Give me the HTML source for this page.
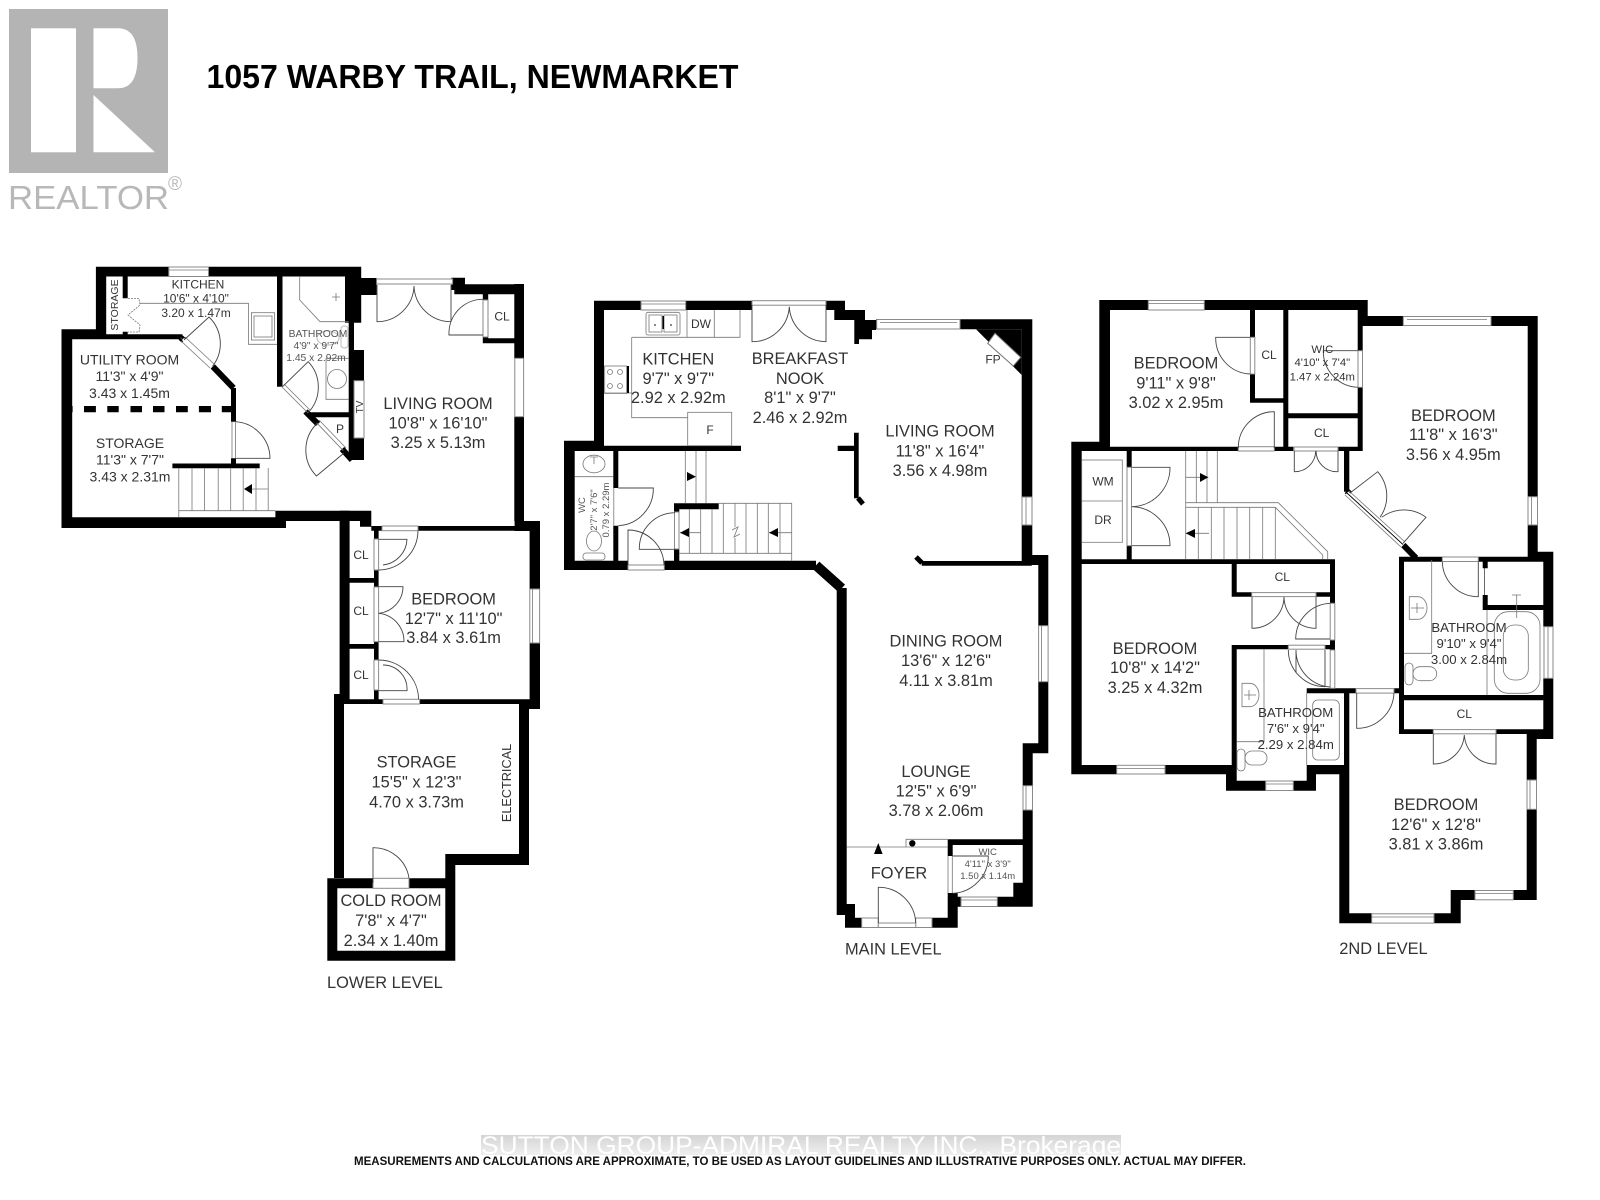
<!DOCTYPE html>
<html><head><meta charset="utf-8"><style>
html,body{margin:0;padding:0;background:#fff}
svg{display:block;filter:blur(.35px)}
text{font-family:"Liberation Sans",sans-serif;fill:#333;text-anchor:middle}
.k{fill:#000}
.ks{fill:none;stroke:#000}
.d{fill:none;stroke:#444;stroke-width:.9}
.g{fill:none;stroke:#777;stroke-width:.8}
.w{fill:#fff;stroke:#8a8a8a;stroke-width:1}
.f{font-size:16.4px}.m{font-size:14px}.s{font-size:12px}.x{font-size:10.3px;fill:#555}
.l{text-anchor:start;font-size:16.4px}
</style></head><body>
<svg width="1600" height="1200" viewBox="0 0 1600 1200" xmlns="http://www.w3.org/2000/svg">
<rect width="1600" height="1200" fill="#fff"/>
<!-- logo -->
<rect x="9" y="9" width="159" height="164" fill="#b4b4b4"/>
<rect x="31" y="28.3" width="45" height="124" fill="#fff"/>
<path d="M93.5 28.3H118Q137.5 28.3 137.5 58Q137.5 88.3 118 88.3H93.5Z" fill="#fff"/>
<path d="M93.5 95V152.3H155Z" fill="#fff"/>
<text x="8" y="209" style="font-size:33px;fill:#b8b8b8;text-anchor:start" textLength="161" lengthAdjust="spacingAndGlyphs">REALTOR</text>
<text x="175" y="190" style="font-size:19px;fill:#b8b8b8">®</text>
<text x="206.5" y="88" style="font-size:33px;font-weight:bold;fill:#000;text-anchor:start" textLength="532" lengthAdjust="spacingAndGlyphs">1057 WARBY TRAIL, NEWMARKET</text>

<!-- LOWER LEVEL walls -->
<path class="k" d="M95.9 266.7H168.8V276.5H95.9ZM208.5 266.7H361.2V276.5H208.5ZM95.9 266.7H106.2V339H95.9ZM122.7 276H127.7V298.3H122.7ZM122.7 331.7H127.7V339H122.7ZM95.9 334.3H182.4V339.3H95.9ZM61.5 329.3H106V339.3H61.5ZM61.5 329.3H72.2V528H61.5ZM61.5 517.3H286V528H61.5ZM231 388H236V421.7H231ZM231 458.3H236V464H231ZM172.4 463.5H259.7V468.3H172.4ZM275.4 510.7H370.2V521H275.4ZM360 510.7H371.3V526.7H360ZM277 276H282.5V386.7H277ZM345 276H361.2V322.7H345ZM348.7 322.7H354V438H348.7ZM348.7 350H364V380.7H348.7ZM348.7 438H364V460H348.7ZM307.5 412.3H348.7V417.3H307.5ZM361.2 278H376.6V295H361.2ZM451.4 277.7H465V290H451.4ZM454.3 284.3H524V294.3H454.3ZM514.3 284H524V358.3H514.3ZM514.3 416.7H524V521H514.3ZM482.8 294H488.2V300H482.8ZM482.8 337H488.2V343.3H482.8ZM482.8 338.3H514.3V343.3H482.8Z"/>
<path class="k" d="M84 406H95.9V412.3H84ZM107.3 406H118.7V412.3H107.3ZM130.5 406H142V412.3H130.5ZM153 406H164.5V412.3H153ZM176 406H187.8V412.3H176ZM198.9 406H211V412.3H198.9ZM221.8 406H231V412.3H221.8ZM68 406H72.6V412.3H68Z"/>
<path class="ks" stroke-width="6" d="M212.8 366.5L233.5 388M180.5 337.5L184 340.5M305.5 411.5L318 424M342 449L352 460"/>
<path class="k" d="M339.6 510.7H349.6V700H339.6ZM349.6 578H378.6V582.7H349.6ZM349.6 644H378.6V648.7H349.6ZM374 526H378.6V539H374ZM374 570H378.6V587H374ZM374 641.7H378.6V660H374ZM374 690H378.6V704H374ZM371.3 526H382V530.7H371.3ZM418 526H514.6V530.7H418ZM514.6 521H540V531H514.6ZM529.6 521H540V589H529.6ZM529.6 643H540V709H529.6ZM339.6 699.3H383V704H339.6ZM419.6 699.3H529.6V704H419.6ZM519 704H540V709H519ZM334 694H344V878H334ZM519 704H529V865H519ZM445.3 854H529V865H445.3ZM445.3 854H455.3V888H445.3ZM327.3 878.3H373V888.3H327.3ZM409 878.3H455.3V888.3H409ZM327.3 878.3H337.3V960.7H327.3ZM445.3 878.3H455.3V960.7H445.3ZM327.3 950.7H455.3V960.7H327.3Z"/>
<!-- lower windows / gray doors -->
<rect class="w" x="168.8" y="267" width="39.7" height="9.5"/><path class="g" d="M168.8 270H208.5"/>
<rect class="w" x="376.6" y="279" width="76" height="5"/>
<rect class="w" x="514.8" y="358.3" width="8.8" height="58.4"/>
<rect class="w" x="483" y="300" width="5" height="37"/>
<rect class="w" x="354" y="380.7" width="10" height="57.3"/>
<rect class="w" x="529.8" y="589" width="9.8" height="54"/><path class="g" d="M532.5 589V643"/>
<rect class="w" x="382" y="526" width="36" height="4.7"/>
<rect class="w" x="383" y="699.3" width="36.6" height="4.7"/>
<rect class="w" x="374" y="539" width="4.6" height="31"/>
<rect class="w" x="374" y="587" width="4.6" height="54.7"/>
<rect class="w" x="374" y="660" width="4.6" height="30"/>
<rect class="w" x="373" y="878.3" width="36" height="10"/>
<path class="g" d="M232 421.7V458.3M235.5 421.7V458.3M180.5 337.5L212.8 366.5"/>
<path d="M183 339L212 366" stroke="#fff" stroke-width="3" fill="none"/>
<path class="g" stroke-width="1" d="M185 337L214 364M181 341L210 368M281 386L308 413M284 384L310 410M316.5 422.7L343.3 450.7M319 420L346 448"/>
<!-- lower doors -->
<path class="d" d="M184 340L209 317A37 37 0 0 1 212.8 366M236 458.3H270A37 37 0 0 0 236 421.7M282.5 386.7L308.2 361.7A37 37 0 0 1 307.5 413.3M344 453L316.5 476A37 37 0 0 1 316.5 424M482.8 335H449A34 34 0 0 1 482.8 299.3M377 285V321.7A37 37 0 0 0 414 286M451 285V321.7A37 37 0 0 1 414 286M418 530.7A40 40 0 0 1 378.6 570M378.6 539.3H407A27 27 0 0 1 383 565M378.6 586.7H403A27 27 0 0 1 378.6 613.3M378.6 613.3A28 28 0 0 1 404 641.7H378.6M378.6 660A40 40 0 0 1 418.6 699.3M383 665A24 24 0 0 1 407 690.7H378.6M373 883V847.7A36 36 0 0 1 409 878"/>
<!-- lower fixtures -->
<path class="g" d="M139.5 303.3H248.5V344.3H277M299.7 276.7V300L320 321.7H348.7M178.8 468V510.7M192 468V510.7M204.6 468V510.7M218.2 468V510.7M230.7 468V510.7M243.2 468V510.7M256 468V510.7M268.2 468V510.7M178.8 510.7H275.4M178.8 517.3V510.7M332 297H340M336 293V301"/>
<path class="g" stroke-dasharray="2 1" d="M128 298.5H139L140 305L128 315L140 325L139 332H128"/>
<rect class="g" x="251.4" y="312.7" width="23.2" height="27.3"/><rect class="g" x="254" y="316" width="18" height="21"/>
<path class="g" d="M326 358.3H348.7M326 358.3V399.3H348.7"/><circle class="g" cx="337" cy="379" r="9.5"/>
<ellipse cx="328" cy="338" rx="11" ry="7" fill="none" stroke="#bbb"/><rect x="341" y="326" width="7" height="22" rx="3" fill="none" stroke="#bbb"/>
<path class="g" d="M268 489H250"/><path class="k" d="M244 489L252 484V494Z"/>
<!-- lower labels -->
<text class="s" x="198" y="288.5">KITCHEN</text><text class="s" x="196" y="302.5">10'6" x 4'10"</text><text class="s" x="196" y="317">3.20 x 1.47m</text>
<text transform="translate(118,305) rotate(-90)" style="font-size:10.5px">STORAGE</text>
<text class="m" x="129.5" y="364.5">UTILITY ROOM</text><text class="m" x="129.5" y="381">11'3" x 4'9"</text><text class="m" x="129.5" y="398">3.43 x 1.45m</text>
<text class="m" x="130" y="448">STORAGE</text><text class="m" x="130" y="464.7">11'3" x 7'7"</text><text class="m" x="130" y="481.7">3.43 x 2.31m</text>
<text class="x" x="318" y="337">BATHROOM</text><text class="x" x="316" y="349">4'9" x 9'7"</text><text class="x" x="316" y="361">1.45 x 2.92m</text>
<text class="f" x="438" y="409">LIVING ROOM</text><text class="f" x="438" y="428.5">10'8" x 16'10"</text><text class="f" x="438" y="448">3.25 x 5.13m</text>
<text class="s" x="502" y="320.5">CL</text>
<text transform="translate(363,407) rotate(-90)" style="font-size:10px">TV</text>
<text class="s" x="340" y="433">P</text>
<text class="s" x="361" y="559">CL</text><text class="s" x="361" y="615">CL</text><text class="s" x="361" y="679">CL</text>
<text class="f" x="453.6" y="604.5">BEDROOM</text><text class="f" x="453.6" y="624">12'7" x 11'10"</text><text class="f" x="453.6" y="643">3.84 x 3.61m</text>
<text class="f" x="416.5" y="767.5">STORAGE</text><text class="f" x="416.5" y="787.5">15'5" x 12'3"</text><text class="f" x="416.5" y="807.5">4.70 x 3.73m</text>
<text transform="translate(511,783) rotate(-90)" style="font-size:12.7px">ELECTRICAL</text>
<text class="f" x="391" y="906">COLD ROOM</text><text class="f" x="391" y="926">7'8" x 4'7"</text><text class="f" x="391" y="946">2.34 x 1.40m</text>
<text class="l" x="327" y="988">LOWER LEVEL</text>

<!-- MAIN LEVEL walls -->
<path class="k" d="M594 300.7H641V310H594ZM685.7 300.7H752V310H685.7ZM826 300.7H845V310H826ZM594 300.7H604V451H594ZM564 440.7H604V451H564ZM604 445.7H741V451H604ZM564 440.7H574.7V570H564ZM613.3 451H618.3V488H613.3ZM613.3 525.7H618.3V560.7H613.3ZM564 560.7H628V570H564ZM664.3 560.7H816V570H664.3ZM834.3 310H865V320H834.3ZM854.3 320H876V330H854.3ZM859 330H872V339.3H859ZM854.3 330H859V344H854.3ZM876 319.3H877V329.3H876ZM960 319.3H1032.3V329.3H960ZM1021.7 319.3H1032.3V497H1021.7ZM1021.7 525H1032.3V560H1021.7ZM921.7 561H1031.7V565.7H921.7ZM1021.7 555H1048V565H1021.7ZM1038.3 555H1048.3V625.7H1038.3ZM1038.3 681.7H1048.3V753.3H1038.3ZM1022.7 743.3H1048.3V753.3H1022.7ZM1022.7 743.3H1032.7V785.7H1022.7ZM1022.7 810H1032.7V906.7H1022.7ZM837.7 445.7H858V451H837.7ZM854 432.7H858.7V498.3H854ZM674 503.3H718.7V509.3H674ZM674 503.3H679.3V511.7H674ZM674 549.3H679.3V560.7H674ZM836.7 588H846.7V915H836.7ZM845 904H855V927.7H845ZM845 917.7H861.7V927.7H845ZM932 917.7H957.7V927.7H932ZM947.7 893H957.7V927.7H947.7ZM957.7 896.7H961V906.7H957.7ZM997.3 896.7H1032.7V906.7H997.3ZM1013.3 882.7H1022.7V896.7H1013.3ZM947.7 839.3H1022.7V845H947.7ZM947.7 839.3H952.7V856H947.7Z"/>
<path class="ks" stroke-width="10" d="M816 565.3L841.7 588.3"/>
<path class="ks" stroke-width="5" d="M858 498L863 504M916 557L922 563"/>
<path class="k" d="M976 329.3L1021.7 375V329.3Z"/>
<path d="M987.7 343.3L995 333.3L1020.7 357.3L1013.3 366Z" fill="#fff" stroke="#777"/>
<!-- main windows -->
<rect class="w" x="641" y="301" width="44.7" height="9"/><path class="g" d="M641 304H685.7"/>
<rect class="w" x="752" y="300.7" width="74" height="4.5"/>
<rect class="w" x="876.7" y="319.5" width="83.3" height="9.5"/><path class="g" d="M880 322.5H957"/>
<rect class="w" x="1022" y="497" width="10" height="28"/><path class="g" d="M1026 497V525"/>
<rect class="w" x="1038.6" y="625.7" width="9.5" height="56"/><path class="g" d="M1041.5 625.7V681.7"/>
<rect class="w" x="1023" y="785.7" width="9.5" height="24.3"/><path class="g" d="M1026 785.7V810"/>
<rect class="w" x="861.7" y="918" width="16.6" height="9.5"/><rect class="w" x="915.7" y="918" width="16.3" height="9.5"/><rect class="w" x="878.3" y="923" width="37.4" height="4.5"/>
<rect class="w" x="961" y="897" width="36.3" height="9.5"/><path class="g" d="M961 900H997"/>
<rect class="w" x="628" y="565" width="36.3" height="5"/>
<rect class="w" x="674.5" y="512" width="4.5" height="37"/>
<path class="g" d="M613.8 488V525.7M948 856V893M952.3 856V893"/>
<!-- main doors -->
<path class="d" d="M752 305V341.7A37 37 0 0 0 789.3 306.7M826 305V341.7A37 37 0 0 1 789.3 306.7M618.3 488H653.3A37 37 0 0 1 618.3 525.7M628 565V530A36 36 0 0 1 664 565M675 549.3H639.3A36 36 0 0 1 675 512.7M878.3 923V887.3A37 37 0 0 1 915.7 923M952.7 856H988.3A37 37 0 0 1 952.7 893.3"/>
<!-- main fixtures -->
<path class="g" d="M631.7 337.3H740V310M631.7 337.3V417.7H687.7M687 310V337.3M714.3 310V337.3M604 393H631.7M685.3 451V503.3M696 451V503.3M706 451V503.3M718.7 503.3H791.7V560.7M679 553.3H791.7M689.3 509.3V553.3M700.7 509.3V553.3M712 509.3V553.3M723.3 503.3V553.3M735 503.3V527M735 538V553.3M746 503.3V553.3M757.3 503.3V553.3M768.3 503.3V553.3M780 503.3V553.3M680 532.7H700.7M769 532.7H791.7M732 530L738 527L734 537L740 534M574.7 476.7H613.3M846.7 847H947.7M906 847V839.3H947.7"/>
<rect class="g" x="687.7" y="412.3" width="44" height="33.4" fill="#fff"/>
<rect class="g" x="646" y="312.3" width="34" height="22.7" rx="2"/><rect class="g" x="649" y="315" width="13" height="17"/><rect class="g" x="664" y="315" width="13" height="17"/>
<circle cx="655" cy="325" r=".9" fill="#333"/><circle cx="671" cy="325" r=".9" fill="#333"/>
<rect class="g" x="604.7" y="366" width="22" height="27.4"/><circle class="g" cx="610" cy="372" r="2.5"/><circle class="g" cx="620" cy="372" r="2.5"/><circle class="g" cx="610" cy="386" r="2.5"/><circle class="g" cx="620" cy="386" r="2.5"/>
<rect class="k" x="627" y="366" width="2" height="27"/>
<ellipse class="g" cx="594" cy="464" rx="11" ry="8.8"/><path class="g" d="M594 457V464M590 457H598"/>
<ellipse class="g" cx="594" cy="541" rx="7.5" ry="10"/><rect class="g" x="583" y="553" width="22" height="7" rx="3"/>
<path class="k" d="M696 476.7L687 472V481ZM680 532.7L689 528V537ZM769 532.7L778 528V537ZM878.3 843L874 854H882.6Z"/><circle class="k" cx="912.3" cy="843.3" r="3.2"/>
<path class="k" d="M662.5 316H664V329H662.5Z"/>
<!-- main labels -->
<text class="f" x="678.3" y="364.5">KITCHEN</text><text class="f" x="678.3" y="384">9'7" x 9'7"</text><text class="f" x="678.3" y="403">2.92 x 2.92m</text>
<text class="f" x="800" y="364">BREAKFAST</text><text class="f" x="800" y="384">NOOK</text><text class="f" x="800" y="403">8'1" x 9'7"</text><text class="f" x="800" y="423">2.46 x 2.92m</text>
<text class="s" x="701" y="328">DW</text><text class="s" x="710" y="434">F</text><text class="s" x="993" y="363.5">FP</text>
<text class="f" x="940" y="436.5">LIVING ROOM</text><text class="f" x="940" y="456.5">11'8" x 16'4"</text><text class="f" x="940" y="476">3.56 x 4.98m</text>
<text class="f" x="946" y="646.5">DINING ROOM</text><text class="f" x="946" y="666">13'6" x 12'6"</text><text class="f" x="946" y="686">4.11 x 3.81m</text>
<text class="f" x="936" y="777">LOUNGE</text><text class="f" x="936" y="796.5">12'5" x 6'9"</text><text class="f" x="936" y="816">3.78 x 2.06m</text>
<text class="f" x="899" y="878.5">FOYER</text>
<text style="font-size:9.5px;fill:#555" x="987.7" y="855">WIC</text><text style="font-size:9.5px;fill:#555" x="987.7" y="867">4'11" x 3'9"</text><text style="font-size:9.5px;fill:#555" x="987.7" y="879">1.50 x 1.14m</text>
<text transform="translate(585,505) rotate(-90)" style="font-size:9.5px;fill:#555">WC</text><text transform="translate(597,510) rotate(-90)" style="font-size:9.5px;fill:#555">2'7" x 7'6"</text><text transform="translate(609,510) rotate(-90)" style="font-size:9.5px;fill:#555">0.79 x 2.29m</text>
<text class="l" x="845" y="954.5">MAIN LEVEL</text>

<!-- 2ND LEVEL walls -->
<path class="k" d="M1099.3 300H1148.3V310H1099.3ZM1204.3 300H1367.7V310H1204.3ZM1099.3 300H1110V446.7H1099.3ZM1071.3 441.7H1110V451H1071.3ZM1071.3 441.7H1081.7V774.3H1071.3ZM1110 446.7H1238.3V451H1110ZM1274.3 446.7H1293.3V451H1274.3ZM1338.3 446.7H1362.7V451H1338.3ZM1250 310H1255V337.3H1250ZM1250 374H1255V402.7H1250ZM1250 398.3H1283.3V402.7H1250ZM1283.3 310H1288.3V451H1283.3ZM1357.7 310H1362.7V350.7H1357.7ZM1357.7 387.3H1362.7V451H1357.7ZM1288 413.3H1358V418.3H1288ZM1357.7 300H1367.7V326H1357.7ZM1362.7 316H1403.3V326H1362.7ZM1491 316H1537.7V326H1491ZM1527.7 316H1537.7V496.7H1527.7ZM1527.7 525H1537.7V556.7H1527.7ZM1344 451H1349.3V491.7H1344ZM1399 556.7H1442.3V561.7H1399ZM1478.3 556.7H1553.3V561.7H1478.3ZM1527.7 551.7H1553.3V561.7H1527.7ZM1399 556.7H1404V733.3H1399ZM1543.3 551.7H1553.3V626.7H1543.3ZM1543.3 678.3H1553.3V738.3H1543.3ZM1482.7 561.7H1487.7V568.3H1482.7ZM1482.7 595H1487.7V610H1482.7ZM1487.7 605H1543.3V610H1487.7ZM1399 695H1543.3V700.3H1399ZM1399 729.3H1433.3V734H1399ZM1496 729.3H1553.3V734H1496ZM1526.7 734H1553.3V739H1526.7ZM1526.7 734H1536.7V780H1526.7ZM1526.7 809.3H1536.7V900H1526.7ZM1450.7 890H1475V900H1450.7ZM1513.3 890H1536.7V900H1513.3ZM1450.7 890H1460.7V923.3H1450.7ZM1339.3 913.3H1371.7V923.3H1339.3ZM1434 913.3H1460.7V923.3H1434ZM1339.3 765H1349.3V923.3H1339.3ZM1344 693H1349.3V765H1344ZM1306.7 688.3H1356V693.3H1306.7ZM1394 688.3H1404V693.3H1394ZM1306.7 765H1349.3V774.3H1306.7ZM1306.7 765H1316V790.7H1306.7ZM1226 780.7H1265.7V790.7H1226ZM1293.3 780.7H1316V790.7H1293.3ZM1226 765H1236.7V790.7H1226ZM1071.3 765H1116.7V774.3H1071.3ZM1165 765H1236.7V774.3H1165ZM1231.7 645H1236.7V765H1231.7ZM1231.7 645H1288.3V649.3H1231.7ZM1325 645H1335V649.3H1325ZM1330 640H1335V650H1330ZM1081.7 559.3H1335V564H1081.7ZM1330 559.3H1335V603.3H1330ZM1231.7 564H1236.7V596.7H1231.7ZM1231.7 592.3H1251.7V596.7H1231.7ZM1316 592.3H1335V596.7H1316ZM1126.7 451H1131.7V467.3H1126.7ZM1126.7 545.7H1131.7V559.3H1126.7Z"/>
<path class="ks" stroke-width="6" d="M1346.7 491L1350 494M1403.3 545L1416 558"/>
<!-- 2nd windows -->
<rect class="w" x="1148.3" y="300.5" width="56" height="9.5"/><path class="g" d="M1148.3 303.5H1204.3"/>
<rect class="w" x="1403.3" y="316.5" width="87.7" height="9"/><path class="g" d="M1407 319.5H1487"/>
<rect class="w" x="1528" y="496.7" width="9.5" height="28.3"/><path class="g" d="M1531.5 496.7V525"/>
<rect class="w" x="1544" y="626.7" width="9" height="51.6"/><path class="g" d="M1548 626.7V678.3"/>
<rect class="w" x="1527" y="780" width="9.5" height="29.3"/><path class="g" d="M1530 780V809.3"/>
<rect class="w" x="1475" y="890.5" width="38.3" height="9.3"/><path class="g" d="M1475 893.5H1513"/>
<rect class="w" x="1371.7" y="913.8" width="62.3" height="9.3"/><path class="g" d="M1371.7 917H1434"/>
<rect class="w" x="1265.7" y="781" width="27.6" height="9.5"/><path class="g" d="M1265.7 784H1293.3"/>
<rect class="w" x="1116.7" y="765.3" width="48.3" height="8.7"/><path class="g" d="M1116.7 768.5H1165"/>
<rect class="w" x="1238.3" y="446.7" width="36" height="4.3"/>
<rect class="w" x="1294" y="447" width="44" height="4"/>
<rect class="w" x="1250.3" y="337.3" width="4.5" height="36.7"/>
<rect class="w" x="1358" y="350.7" width="4.5" height="36.6"/>
<rect class="w" x="1127" y="467.3" width="4.5" height="78.4"/>
<rect class="w" x="1442.3" y="557" width="36" height="4.5"/>
<rect class="w" x="1433.3" y="729.6" width="62.7" height="4.2"/>
<rect class="w" x="1251.7" y="592.6" width="64.3" height="4"/>
<rect class="w" x="1288.3" y="645.2" width="36.7" height="4"/>
<rect class="w" x="1330.2" y="603.3" width="4.6" height="36.7"/>
<rect class="w" x="1330.2" y="650" width="4.6" height="38.3"/>
<rect class="w" x="1356" y="688.6" width="38" height="4.5"/>
<path d="M1346.7 493.3L1403.3 545" stroke="#fff" stroke-width="5" fill="none"/>
<path class="g" stroke-width="1" d="M1349 491L1405 542M1345 495L1401 547"/><path d="M1347 493L1403 544.5" stroke="#000" stroke-width=".9" fill="none"/>
<path d="M1484.5 568V595" stroke="#444" stroke-width=".8" fill="none"/>
<!-- 2nd doors -->
<path class="d" d="M1274.3 448V411.7A36 36 0 0 0 1238.3 448M1250 337.3H1215.7A36 36 0 0 0 1250 374M1358 350.7H1323.3A36 36 0 0 0 1358 387.3M1294.3 451V471.7A21 21 0 0 0 1315.7 451M1338 451V471.7A21 21 0 0 1 1316 451M1131.7 467.3H1170A39 39 0 0 1 1131.7 506.7M1131.7 545.7H1170A39 39 0 0 0 1131.7 506.7M1350 493L1377.7 471.7A37 37 0 0 1 1380 517.3M1403 543.3L1426 517.3A37 37 0 0 0 1381.7 517.3M1478.3 561.7V596.7A36 36 0 0 1 1442.3 561.7M1356.7 693V728.3A37 37 0 0 0 1394 693M1433.3 734V764A31 31 0 0 0 1464.3 735M1496 734V764A31 31 0 0 1 1464.3 735M1252 596.7V628.3A32 32 0 0 0 1284 597M1316 596.7V628.3A32 32 0 0 1 1284 597M1330 639H1295.7A36 36 0 0 1 1330 603.3M1288.3 650A37 37 0 0 0 1325 686.7V650M1296 673V650A37 37 0 0 0 1330 687"/>
<!-- 2nd fixtures -->
<rect class="g" x="1081.7" y="460" width="40.6" height="82.3"/><path class="g" d="M1081.7 501H1122.3"/>
<path class="g" d="M1185.7 451V502.7M1196.3 451V502.7M1207 451V502.7M1217.3 451V502.7M1185.7 477.3H1208.3M1185.7 502.7H1278.3L1327.7 551.7V559.3M1185.7 507.3H1275.3L1322.7 555V559.3M1185.7 502.7V559.3M1198.3 507.3V559.3M1211.3 507.3V559.3M1224 507.3V559.3M1237 507.3V559.3M1249.7 507.3V559.3M1262.7 507.3V559.3M1275.3 507.3V559.3M1185.7 533.3H1209M1404 653.3H1431.7V560M1487 610V695M1236.7 741.7H1264V649M1306.7 693V765"/>
<path class="k" d="M1208.3 477.3L1200 473V482ZM1185.7 533.3L1195 529V538Z"/>
<path class="g" d="M1409.3 596.7H1418A9 11.3 0 0 1 1418 619.3H1409.3ZM1411 608H1424M1417 603V613"/>
<rect class="g" x="1494.3" y="611.7" width="45.7" height="81.6" rx="14"/><rect class="g" x="1503.3" y="625" width="25" height="55" rx="11"/><path class="g" d="M1516.7 595V618M1512 595H1521"/>
<rect class="g" x="1413" y="666.7" width="23.7" height="14" rx="7"/><rect class="g" x="1405" y="663" width="8" height="22" rx="4"/>
<path class="g" d="M1242 683.3H1250A9 11.7 0 0 1 1250 706.7H1242ZM1244 695H1256M1249 690V700"/>
<rect class="g" x="1312.7" y="700" width="26.6" height="60" rx="5"/>
<rect class="g" x="1245" y="751" width="22" height="14" rx="7"/><rect class="g" x="1237" y="749" width="8" height="22" rx="4"/>
<!-- 2nd labels -->
<text class="f" x="1176" y="368.5">BEDROOM</text><text class="f" x="1176" y="388.5">9'11" x 9'8"</text><text class="f" x="1176" y="408">3.02 x 2.95m</text>
<text class="s" x="1269" y="359">CL</text>
<text style="font-size:11.3px" x="1322.3" y="353">WIC</text><text style="font-size:11.3px" x="1322.3" y="366">4'10" x 7'4"</text><text style="font-size:11.3px" x="1322.3" y="380.3">1.47 x 2.24m</text>
<text class="s" x="1321.7" y="437">CL</text>
<text class="f" x="1453.3" y="421">BEDROOM</text><text class="f" x="1453.3" y="440">11'8" x 16'3"</text><text class="f" x="1453.3" y="460">3.56 x 4.95m</text>
<text class="s" x="1103" y="485.5">WM</text><text class="s" x="1103" y="524">DR</text>
<text class="s" x="1282.3" y="581">CL</text>
<text class="f" x="1155" y="654">BEDROOM</text><text class="f" x="1155" y="673">10'8" x 14'2"</text><text class="f" x="1155" y="693">3.25 x 4.32m</text>
<text style="font-size:13.2px" x="1295.7" y="717">BATHROOM</text><text style="font-size:13.2px" x="1295.7" y="733">7'6" x 9'4"</text><text style="font-size:13.2px" x="1295.7" y="749">2.29 x 2.84m</text>
<text style="font-size:13.2px" x="1469" y="632">BATHROOM</text><text style="font-size:13.2px" x="1469" y="648">9'10" x 9'4"</text><text style="font-size:13.2px" x="1469" y="664">3.00 x 2.84m</text>
<text class="s" x="1464.3" y="718">CL</text>
<text class="f" x="1436" y="810">BEDROOM</text><text class="f" x="1436" y="830">12'6" x 12'8"</text><text class="f" x="1436" y="849.5">3.81 x 3.86m</text>
<text class="l" x="1339.3" y="954">2ND LEVEL</text>

<!-- footer -->
<defs><linearGradient id="wm" x1="0" y1="0" x2="0" y2="1"><stop offset="0" stop-color="#d4d4d4"/><stop offset="1" stop-color="#efefef"/></linearGradient></defs>
<rect x="481" y="1135" width="640" height="20" fill="url(#wm)"/>
<text x="481" y="1154" style="font-size:25px;fill:#fff;text-anchor:start" textLength="640" lengthAdjust="spacingAndGlyphs">SUTTON GROUP-ADMIRAL REALTY INC., Brokerage</text>
<text x="354" y="1165" style="font-size:12px;font-weight:bold;fill:#111;text-anchor:start" textLength="892" lengthAdjust="spacingAndGlyphs">MEASUREMENTS AND CALCULATIONS ARE APPROXIMATE, TO BE USED AS LAYOUT GUIDELINES AND ILLUSTRATIVE PURPOSES ONLY.  ACTUAL MAY DIFFER.</text>
</svg>
</body></html>
